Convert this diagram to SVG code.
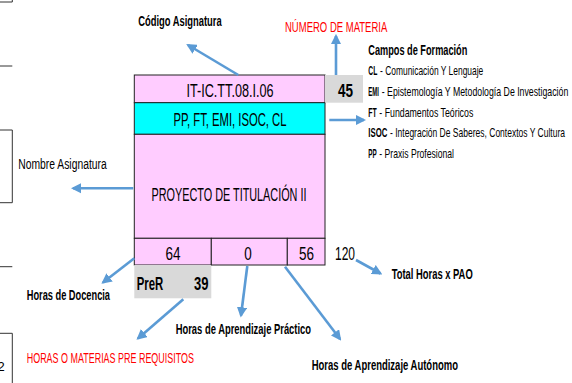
<svg xmlns="http://www.w3.org/2000/svg" width="572" height="383" viewBox="0 0 572 383">
<defs>
<marker id="ah" viewBox="0 0 10 10" refX="8" refY="5" markerWidth="4" markerHeight="4" orient="auto" markerUnits="strokeWidth">
<path d="M0,0 L10,5 L0,10 z" fill="#5B9BD5"/>
</marker>
<style>
text{font-family:"Liberation Sans",Arial,sans-serif;fill:#000}
.lbl{font-size:14px}
.red{fill:#FF0000}
.b{font-weight:bold}
.cell{stroke:#222;stroke-width:1}
.conn line{stroke:#5B9BD5;stroke-width:2.6;marker-end:url(#ah)}
.box{font-size:18px}
.leg{font-size:13px}
.frag{stroke:#333;stroke-width:1;fill:none}
</style>
</defs>
<rect width="572" height="383" fill="#fff"/>

<g id="edge-fragments">
<path class="frag" d="M0,2 H12.3 V0"/>
<path class="frag" d="M0,66 H12.3"/>
<path class="frag" d="M0,130 H12.3 V202.7 H0"/>
<path class="frag" d="M0,266.7 H12.3"/>
<path class="frag" d="M0,333.3 H12.3 V383"/>
<text x="-2.5" y="371" font-size="13">2</text>
</g>

<g id="card">
<rect x="134.3" y="75" width="190.7" height="27.7" fill="#FFCCFF" class="cell"/>
<rect x="134.3" y="102.7" width="190.7" height="31.6" fill="#00FFFF" class="cell"/>
<rect x="134.3" y="134.3" width="190.7" height="104" fill="#FFCCFF" class="cell"/>
<rect x="134.3" y="238.3" width="77" height="26.7" fill="#FFCCFF" class="cell"/>
<rect x="211.3" y="238.3" width="76" height="26.7" fill="#FFCCFF" class="cell"/>
<rect x="287.3" y="238.3" width="37.7" height="26.7" fill="#FFCCFF" class="cell"/>
<rect x="325" y="75" width="38" height="27.7" fill="#D9D9D9"/>
<rect x="134.3" y="265" width="77" height="33.3" fill="#D9D9D9"/>
<text class="box" transform="translate(230,97) scale(0.68,1)" text-anchor="middle" textLength="127.9" lengthAdjust="spacingAndGlyphs">IT-IC.TT.08.I.06</text>
<text class="box" transform="translate(230,125.5) scale(0.68,1)" text-anchor="middle" textLength="166.2" lengthAdjust="spacingAndGlyphs">PP, FT, EMI, ISOC, CL</text>
<text class="box" transform="translate(229,201) scale(0.68,1)" text-anchor="middle" font-size="16.5" textLength="227.9" lengthAdjust="spacingAndGlyphs">PROYECTO DE TITULACIÓN II</text>
<text class="box b" transform="translate(345.5,97) scale(0.68,1)" text-anchor="middle" font-size="16" textLength="22.1" lengthAdjust="spacingAndGlyphs">45</text>
<text class="box" transform="translate(173,259.5) scale(0.68,1)" text-anchor="middle" textLength="22.1" lengthAdjust="spacingAndGlyphs">64</text>
<text class="box" transform="translate(248,259.5) scale(0.68,1)" text-anchor="middle" textLength="11" lengthAdjust="spacingAndGlyphs">0</text>
<text class="box" transform="translate(306.5,259.5) scale(0.68,1)" text-anchor="middle" textLength="22.1" lengthAdjust="spacingAndGlyphs">56</text>
<text class="box" transform="translate(345,259.5) scale(0.68,1)" text-anchor="middle" textLength="29.4" lengthAdjust="spacingAndGlyphs">120</text>
<text class="box b" transform="translate(136.7,290) scale(0.68,1)" textLength="39" lengthAdjust="spacingAndGlyphs">PreR</text>
<text class="box b" transform="translate(208.5,290) scale(0.68,1)" text-anchor="end" textLength="21.3" lengthAdjust="spacingAndGlyphs">39</text>
</g>

<g class="conn" id="connectors">
<line x1="238.3" y1="75" x2="188" y2="45"/>
<line x1="336" y1="75" x2="336" y2="36"/>
<line x1="329.3" y1="120" x2="364" y2="120"/>
<line x1="133.3" y1="188.3" x2="73" y2="188.3"/>
<line x1="134.3" y1="258.3" x2="103" y2="282.5"/>
<line x1="183.3" y1="299.3" x2="138" y2="338.5"/>
<line x1="247.3" y1="266" x2="241" y2="315.5"/>
<line x1="285" y1="266.7" x2="340" y2="339"/>
<line x1="356" y1="260" x2="380.5" y2="273.5"/>
</g>

<g id="lbl-codigo"><text class="lbl b" transform="translate(138.3,26) scale(0.68,1)" textLength="122.6" lengthAdjust="spacingAndGlyphs">Código Asignatura</text></g>
<g id="lbl-numero"><text class="lbl red" transform="translate(285,32) scale(0.68,1)" textLength="150.4" lengthAdjust="spacingAndGlyphs">NÚMERO DE MATERIA</text></g>
<g id="lbl-nombre"><text class="lbl" transform="translate(18.3,169.3) scale(0.68,1)" textLength="130" lengthAdjust="spacingAndGlyphs">Nombre Asignatura</text></g>
<g id="lbl-docencia"><text class="lbl b" transform="translate(26.7,300) scale(0.68,1)" textLength="122.5" lengthAdjust="spacingAndGlyphs">Horas de Docencia</text></g>
<g id="lbl-prereq"><text class="lbl red" transform="translate(26.7,363) scale(0.68,1)" textLength="246" lengthAdjust="spacingAndGlyphs">HORAS O MATERIAS PRE REQUISITOS</text></g>
<g id="lbl-practico"><text class="lbl b" transform="translate(175.7,333.5) scale(0.68,1)" textLength="199" lengthAdjust="spacingAndGlyphs">Horas de Aprendizaje Práctico</text></g>
<g id="lbl-autonomo"><text class="lbl b" transform="translate(311.7,370) scale(0.68,1)" textLength="215.1" lengthAdjust="spacingAndGlyphs">Horas de Aprendizaje Autónomo</text></g>
<g id="lbl-total"><text class="lbl b" transform="translate(391.7,279) scale(0.68,1)" textLength="119.1" lengthAdjust="spacingAndGlyphs">Total Horas x PAO</text></g>

<g id="legend">
<text class="b" font-size="15" transform="translate(368.3,55) scale(0.68,1)" textLength="145.6" lengthAdjust="spacingAndGlyphs">Campos de Formación</text>
<text class="leg b" transform="translate(368.3,75.3) scale(0.52,1)" textLength="17.3" lengthAdjust="spacingAndGlyphs">CL</text>
<text class="leg" transform="translate(380,75.3) scale(0.68,1)" textLength="151.9" lengthAdjust="spacingAndGlyphs">- Comunicación Y Lenguaje</text>
<text class="leg b" transform="translate(368.3,96) scale(0.46,1)" textLength="23.1" lengthAdjust="spacingAndGlyphs">EMI</text>
<text class="leg" transform="translate(381.7,96) scale(0.68,1)" textLength="274.4" lengthAdjust="spacingAndGlyphs">- Epistemología Y Metodología De Investigación</text>
<text class="leg b" transform="translate(368.3,116.7) scale(0.53,1)" textLength="15.9" lengthAdjust="spacingAndGlyphs">FT</text>
<text class="leg" transform="translate(379.3,116.7) scale(0.68,1)" textLength="138.2" lengthAdjust="spacingAndGlyphs">- Fundamentos Teóricos</text>
<text class="leg b" transform="translate(368.3,137.3) scale(0.6,1)" textLength="31.7" lengthAdjust="spacingAndGlyphs">ISOC</text>
<text class="leg" transform="translate(390,137.3) scale(0.68,1)" textLength="257.4" lengthAdjust="spacingAndGlyphs">- Integración De Saberes, Contextos Y Cultura</text>
<text class="leg b" transform="translate(368.3,158) scale(0.49,1)" textLength="17.1" lengthAdjust="spacingAndGlyphs">PP</text>
<text class="leg" transform="translate(379.3,158) scale(0.68,1)" textLength="109.9" lengthAdjust="spacingAndGlyphs">- Praxis Profesional</text>
</g>
</svg>
